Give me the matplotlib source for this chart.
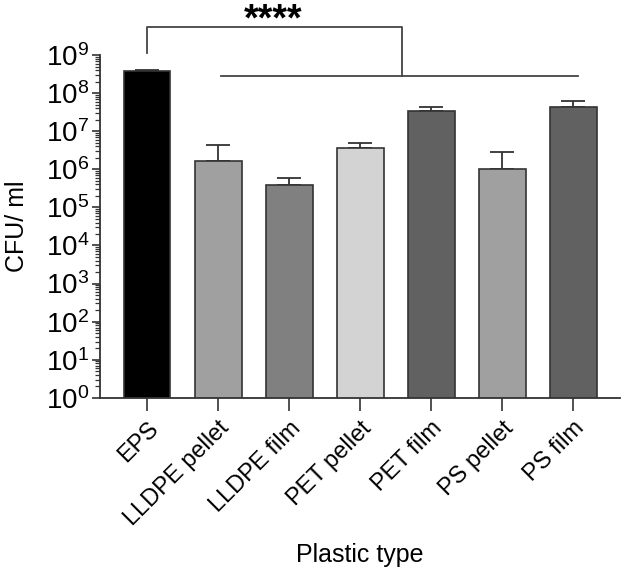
import numpy as np
import matplotlib.pyplot as plt
from matplotlib.ticker import LogLocator, NullFormatter

plt.rcParams['font.family'] = ['Liberation Sans', 'DejaVu Sans']
plt.rcParams['mathtext.fontset'] = 'custom'
plt.rcParams['mathtext.rm'] = 'Liberation Sans'
plt.rcParams['mathtext.it'] = 'Liberation Sans'

# data
categories = ['EPS', 'LLDPE pellet', 'LLDPE film', 'PET pellet', 'PET film', 'PS pellet', 'PS film']
cfu_mean = [3.8e8, 1.65e6, 3.9e5, 3.6e6, 3.4e7, 1.02e6, 4.4e7]
cfu_upper = [3.95e8, 4.4e6, 5.9e5, 4.9e6, 4.4e7, 2.8e6, 6.1e7]
bar_colors = ['#000000', '#a0a0a0', '#808080', '#d3d3d3', '#616161', '#a0a0a0', '#616161']

x = np.arange(len(categories))
yerr = [np.zeros(len(x)), np.array(cfu_upper) - np.array(cfu_mean)]

fig = plt.figure(figsize=(6.22, 5.74), dpi=100)
ax = fig.add_axes([0.161, 0.307, 0.836, 0.597])

ax.bar(x, cfu_mean, width=0.66, color=bar_colors, edgecolor='#333333', linewidth=1.2, zorder=2)
ax.errorbar(x, cfu_mean, yerr=yerr, fmt='none', ecolor='#333333', elinewidth=1.3,
            capsize=8.5, capthick=1.3, zorder=1)

ax.set_yscale('log')
ax.set_ylim(1, 1e9)
ax.set_xlim(-0.66, 6.66)
ax.yaxis.set_major_locator(LogLocator(base=10, numticks=12))
ax.yaxis.set_minor_locator(LogLocator(base=10, subs=np.arange(2, 10), numticks=12))
ax.yaxis.set_minor_formatter(NullFormatter())

ax.set_xticks(x)
ax.set_xticklabels(categories, rotation=45, ha='right', rotation_mode='anchor', fontsize=17)
ax.tick_params(axis='y', which='major', labelsize=20, length=6, width=1.2, color='#333333', pad=2)
ax.tick_params(axis='y', which='minor', length=3.5, width=0.9, color='#333333')
ax.tick_params(axis='x', length=9, width=1.2, color='#333333', pad=5)

for side in ['top', 'right']:
    ax.spines[side].set_visible(False)
for side in ['left', 'bottom']:
    ax.spines[side].set_linewidth(1.3)
    ax.spines[side].set_color('#333333')

ax.set_ylabel('CFU/ ml', fontsize=18, labelpad=12)
ax.set_xlabel('Plastic type', fontsize=18)
ax.xaxis.set_label_coords(0.5, -0.425)

# significance bracket
lc = '#444444'
ax.plot([0, 0, 3.59, 3.59], [10**9.05, 10**9.73, 10**9.73, 10**8.45], color=lc, lw=1.3, clip_on=False)
ax.plot([1.04, 6.06], [10**8.45, 10**8.45], color=lc, lw=1.3, clip_on=False)
ax.text(1.78, 10**9.65, '****', ha='center', va='baseline', fontsize=27, fontweight='bold')

plt.savefig('out.png', dpi=100)
